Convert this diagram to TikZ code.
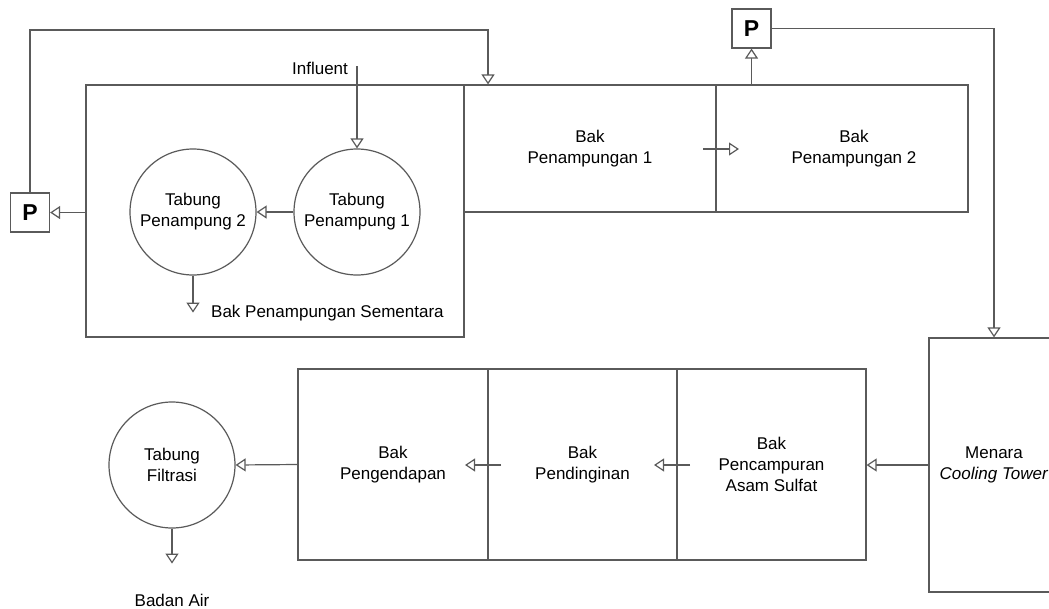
\documentclass[tikz,border=0pt]{standalone}
\usepackage{fontspec}
\setmainfont{Liberation Sans}
\usetikzlibrary{arrows.meta}
\definecolor{linecol}{RGB}{90,90,90}
\tikzset{
  box/.style={draw=linecol, line width=1.2pt, inner sep=0pt, align=center, font=\fontsize{17}{21}\selectfont},
  tube/.style={draw=linecol, line width=1.2pt, circle, minimum size=126pt, inner sep=0pt, align=center, font=\fontsize{17}{21}\selectfont},
  pump/.style={draw=linecol, line width=1.2pt, minimum size=39pt, inner sep=0pt, font=\fontsize{23}{23}\selectfont\bfseries},
  lbl/.style={inner sep=0pt, align=center, font=\fontsize{17}{21}\selectfont},
  arr/.style={draw=linecol, line width=1.2pt, -{Triangle[open, length=10pt, width=13pt, fill=white]}},
}
\begin{document}
\begin{tikzpicture}[x=1pt,y=-1pt]
\clip (0,0) rectangle (1049,608);
\fill[white] (0,0) rectangle (1049,608);
% top row
\node[box, minimum width=378pt, minimum height=252pt] (sem) at (275,211) {};
\node[box, minimum width=252pt, minimum height=127pt] (bp1) at (590,148.5) {Bak\\Penampungan 1};
\node[box, minimum width=252pt, minimum height=127pt] (bp2) at (842,148.5) {};
\node[lbl] (bp2t) at (854,149) {Bak\\Penampungan 2};
\node[tube] (tp1) at (357,212) {Tabung\\Penampung 1};
\node[tube] (tp2) at (193,212) {Tabung\\Penampung 2};
\node[lbl, anchor=west] (semt) at (211,313) {Bak Penampungan Sementara};
\node[pump] (pl) at (30,212.5) {P};
\node[pump] (pt) at (751.5,28.5) {P};
\node[lbl] (inf) at (320,68) {Influent};
\coordinate (infc) at (357,66);
\coordinate (tl) at (488,30);
\coordinate (a1) at (703,149);
\coordinate (a2) at (739,149);
% bottom row
\node[box, minimum width=130pt, minimum height=254pt] (ct) at (994,465) {Menara\\\textit{Cooling Tower}};
\node[box, minimum width=189pt, minimum height=191pt] (bpc) at (771.5,464.5) {Bak\\Pencampuran\\Asam Sulfat};
\node[box, minimum width=189pt, minimum height=191pt] (bpd) at (582.5,464.5) {Bak\\Pendinginan};
\node[box, minimum width=190pt, minimum height=191pt] (bpg) at (393,464.5) {Bak\\Pengendapan};
\node[tube] (tf) at (172,465) {Tabung\\Filtrasi};
\node[lbl] (ba) at (172,600) {Badan Air};
\coordinate (b1) at (690,465);
\coordinate (b2) at (654,465);
\coordinate (c1) at (501,465);
\coordinate (c2) at (465,465);
% connectors
\draw[arr] (pl.north) |- (tl) -- (tl |- bp1.north);
\draw[arr] (infc) -- (tp1.north);
\draw[arr] (tp1.west) -- (tp2.east);
\draw[arr] (sem.west |- pl) -- (pl.east);
\draw[arr] (tp2.south) -- ++(0,37);
\draw[arr] (a1) -- (a2);
\draw[arr] (bp2.north -| pt) -- (pt.south);
\draw[arr] (pt.east) -| (ct.north);
\draw[arr] (ct.west) -- (ct.west -| bpc.east);
\draw[arr] (b1) -- (b2);
\draw[arr] (c1) -- (c2);
\draw[arr] (bpg.west) -- (tf.east);
\draw[arr] (tf.south) -- ++(0,35);
\end{tikzpicture}
\end{document}
